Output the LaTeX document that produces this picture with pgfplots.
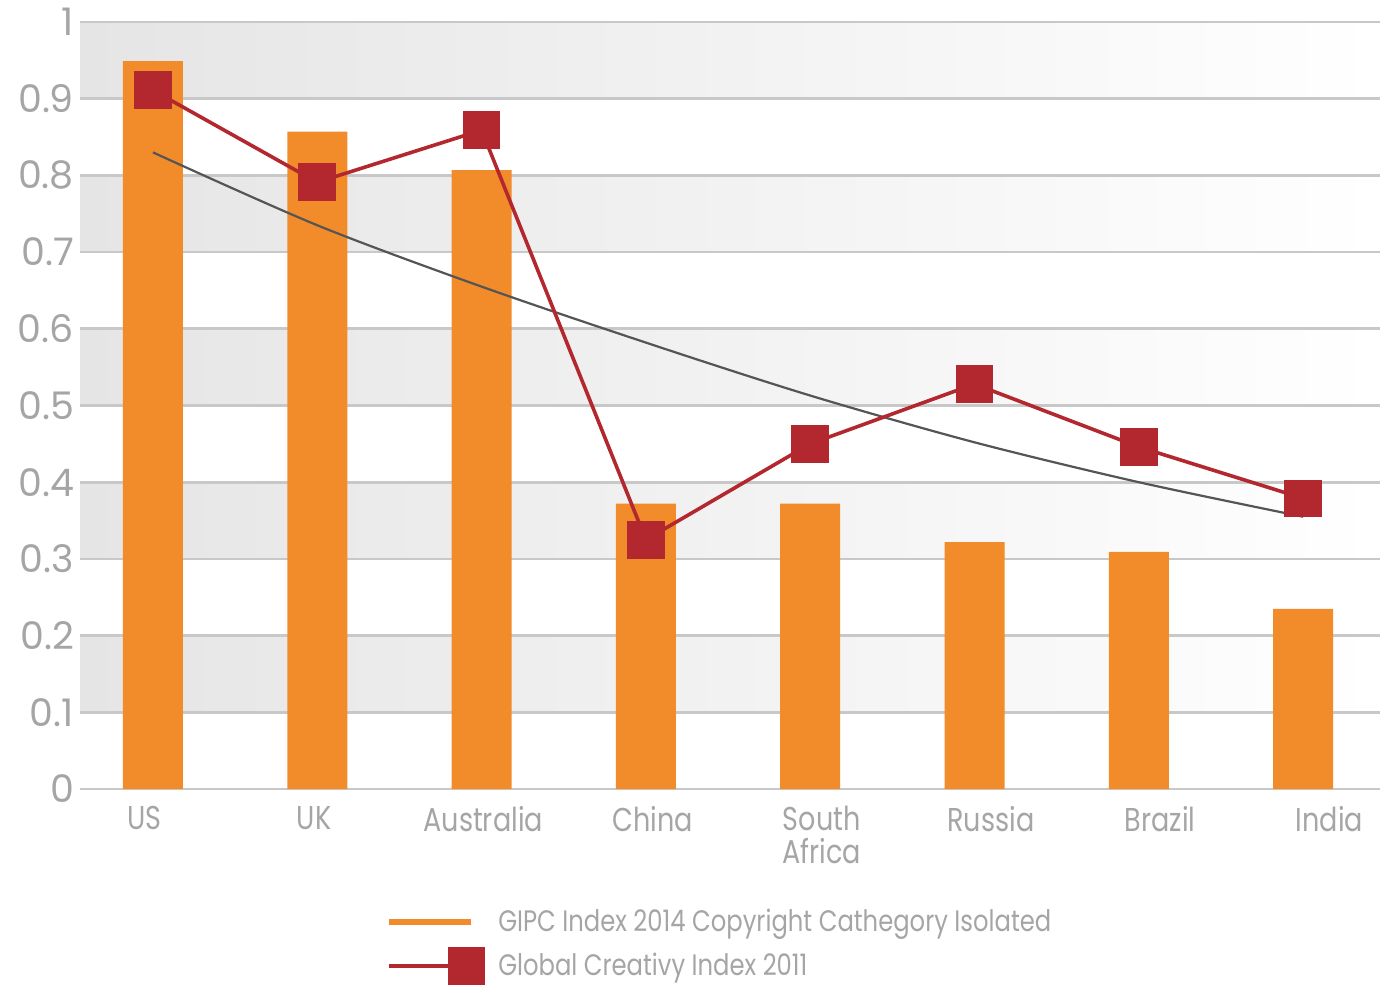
\documentclass[border=0pt]{standalone}
\usepackage{fontspec}
\setmainfont{Poppins}[FakeStretch=0.82]
\newfontfamily\numfont{Poppins}
\usepackage{pgfplots}
\pgfplotsset{compat=1.18}
\definecolor{barorange}{RGB}{242,140,42}
\definecolor{mkred}{RGB}{178,40,46}
\definecolor{txtgray}{RGB}{165,165,165}
\definecolor{gridgray}{RGB}{200,200,200}
\definecolor{bandgray}{RGB}{229,229,229}
\definecolor{trendgray}{RGB}{85,85,85}
\begin{document}
\begin{tikzpicture}
\begin{axis}[
  name=ax, set layers, scale only axis,
  width=650pt, height=383.5pt,
  xmin=-0.444, xmax=7.468, ymin=0, ymax=1,
  axis line style={draw=none},
  major tick length=0pt,
  ymajorgrids, major grid style={gridgray, line width=1.4pt},
  ytick={0,0.1,0.2,0.3,0.4,0.5,0.6,0.7,0.8,0.9,1},
  yticklabels={0,0.1,0.2,0.3,0.4,0.5,0.6,0.7,0.8,0.9,1},
  xtick={-0.05,0.98,2.01,3.04,4.07,5.10,6.13,7.16},
  xticklabels={US,UK,Australia,China,{South\\Africa},Russia,Brazil,India},
  /pgf/number format/assume math mode=true,
  yticklabel style={text=txtgray, font=\numfont\fontsize{19}{21}\selectfont, xshift=0.5pt},
  xticklabel style={text=txtgray, font=\fontsize{16.5}{16.5}\selectfont, align=center,
    yshift=-5pt},
  legend style={draw=none, fill=none, at={(0.2308,-0.146)}, anchor=north west,
    font=\fontsize{14.8}{16}\selectfont, text=txtgray, row sep=4pt, column sep=4.5pt},
  legend cell align=left,
]
\begin{pgfonlayer}{axis background}
\fill[left color=bandgray, right color=white] (rel axis cs:0,0.9) rectangle (rel axis cs:1,1);
\fill[left color=bandgray, right color=white] (rel axis cs:0,0.7) rectangle (rel axis cs:1,0.8);
\fill[left color=bandgray, right color=white] (rel axis cs:0,0.5) rectangle (rel axis cs:1,0.6);
\fill[left color=bandgray, right color=white] (rel axis cs:0,0.3) rectangle (rel axis cs:1,0.4);
\fill[left color=bandgray, right color=white] (rel axis cs:0,0.1) rectangle (rel axis cs:1,0.2);
\end{pgfonlayer}
\addplot[ybar, bar width=30pt, bar shift=0pt, fill=barorange, draw=none,
  legend image code/.code={\draw[barorange, line width=3pt] (0pt,0pt) -- (41pt,0pt);}]
  coordinates {(0,0.949) (1,0.857) (2,0.807) (3,0.372) (4,0.372) (5,0.322) (6,0.309) (7,0.235)};
\addlegendentry{GIPC Index 2014 Copyright Cathegory Isolated}
\addplot[trendgray, line width=1.1pt, smooth, forget plot]
  coordinates {(0,0.830) (1,0.735) (2,0.655) (3,0.582) (4,0.513) (5,0.452) (6,0.400) (7,0.355)};
\addplot[mkred, line width=1.8pt, mark=square*, mark size=8.5pt, mark options={solid, fill=mkred},
  legend image code/.code={\draw[mkred, line width=1.8pt] (0pt,0pt) -- (38.5pt,0pt);
    \fill[mkred] (30pt,-8.5pt) rectangle (47pt,8.5pt);}]
  coordinates {(0,0.911) (1,0.791) (2,0.859) (3,0.325) (4,0.450) (5,0.528) (6,0.446) (7,0.379)};
\addlegendentry{Global Creativy Index 2011}
\coordinate (ll) at (rel axis cs:0,0);
\coordinate (ur) at (rel axis cs:1,1);
\end{axis}
\pgfresetboundingbox
\path ([xshift=-40pt,yshift=-101pt]ll) rectangle ([yshift=11pt]ur);
\end{tikzpicture}
\end{document}
